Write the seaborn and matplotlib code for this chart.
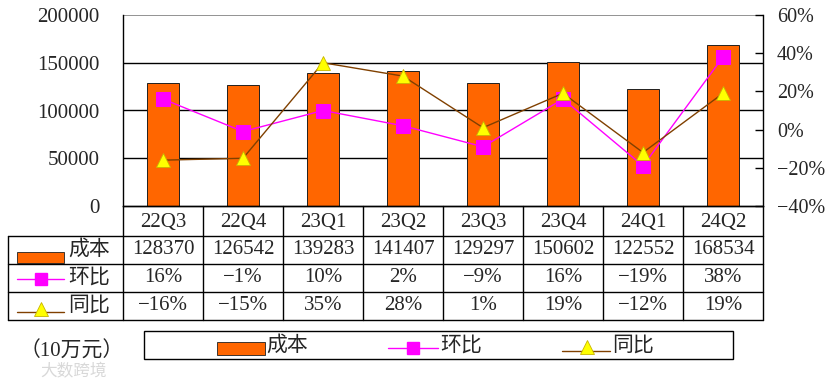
import numpy as np
import matplotlib
matplotlib.use("Agg")
import matplotlib.pyplot as plt
import matplotlib.transforms as mtrans
from matplotlib.patches import Rectangle
import seaborn as sns

# ==============================
# DATA
# ==============================
quarters = ["22Q3", "22Q4", "23Q1", "23Q2", "23Q3", "23Q4", "24Q1", "24Q2"]
cost = [128370, 126542, 139283, 141407, 129297, 150602, 122552, 168534]
qoq = [16, -1, 10, 2, -9, 16, -19, 38]      # 环比 %
yoy = [-16, -15, 35, 28, 1, 19, -12, 19]    # 同比 %

left_ticks = [0, 50000, 100000, 150000, 200000]
right_ticks = [-40, -20, 0, 20, 40, 60]

BAR = "#FF6600"
MAG = "#FF00FF"
BROWN = "#804000"
YEL = "#FFFF00"

# ==============================
# STYLE
# ==============================
sns.set_style("white")
plt.rcParams["font.family"] = ["Liberation Serif", "Noto Sans CJK SC"]
plt.rcParams["axes.unicode_minus"] = True
FS = 15


def pct(v):
    return f"{v}%".replace("-", "\u2212")


fig = plt.figure(figsize=(8.29, 3.84), dpi=100)
W, H = 829, 384
L, R, T, B = 123, 763, 15, 206
ax = fig.add_axes([L / W, 1 - B / H, (R - L) / W, (B - T) / H])

# ==============================
# BARS + LINES
# ==============================
sns.barplot(x=quarters, y=cost, color=BAR, width=0.39, edgecolor="#202020",
            linewidth=0.7, saturation=1, ax=ax, zorder=2)
ax.set_xlim(-0.5, 7.5)
ax.set_ylim(0, 200000)
ax.set_yticks(left_ticks)
ax.set_yticklabels([str(t) for t in left_ticks], fontsize=FS)
ax.tick_params(axis="y", length=0, pad=17)
ax.set_xticks([])
ax.set_xlabel("")
for t in left_ticks[1:-1]:
    ax.axhline(t, color="black", lw=1, zorder=1)
ax.axhline(200000, color="#808080", lw=1.2, zorder=1)
for s in ["left", "bottom"]:
    ax.spines[s].set_color("black")
    ax.spines[s].set_linewidth(1)
ax.spines["top"].set_visible(False)
ax.spines["right"].set_visible(False)

ax2 = ax.twinx()
xs = np.arange(len(quarters))
sns.lineplot(x=xs, y=qoq, color=MAG, lw=1, marker="s", markersize=9.5,
             markerfacecolor=MAG, markeredgecolor=MAG, ax=ax2, zorder=3)
sns.lineplot(x=xs, y=yoy, color=BROWN, lw=1, marker="^", markersize=10,
             markerfacecolor=YEL, markeredgecolor="#C8B400", markeredgewidth=0.6,
             ax=ax2, zorder=4)
ax2.set_ylim(-40, 60)
ax2.set_yticks(right_ticks)
ax2.set_yticklabels([pct(t) for t in right_ticks], fontsize=14.5)
ax2.tick_params(axis="y", direction="in", length=6, width=1, color="black", pad=10)
for s in ["left", "top", "bottom"]:
    ax2.spines[s].set_visible(False)
ax2.spines["right"].set_color("black")
ax2.spines["right"].set_linewidth(1)
ax2.set_xlim(-0.5, 7.5)

# ==============================
# DATA TABLE
# ==============================
ov = fig.add_axes([0, 0, 1, 1], zorder=5)
ov.set_xlim(0, W)
ov.set_ylim(H, 0)
ov.axis("off")
col = mtrans.blended_transform_factory(ax.transData, ov.transData)

lk = dict(color="black", lw=1)
rows = [206, 236, 264, 292, 320]
ov.plot([L, R], [rows[0], rows[0]], **lk)
for y in rows[1:]:
    ov.plot([8, R], [y, y], **lk)
for i in range(len(quarters) + 1):
    ov.plot([L + 80 * i, L + 80 * i], [206, 320], **lk)
ov.plot([8, 8], [236, 320], **lk)

for i, q in enumerate(quarters):
    ov.text(i, 222, q, transform=col, ha="center", va="center", fontsize=FS)
    ov.text(i, 250, str(cost[i]), transform=col, ha="center", va="center", fontsize=FS)
    ov.text(i, 278, pct(qoq[i]), transform=col, ha="center", va="center", fontsize=FS)
    ov.text(i, 306, pct(yoy[i]), transform=col, ha="center", va="center", fontsize=FS)

# row keys
ov.add_patch(Rectangle((17, 252), 47, 11, facecolor=BAR, edgecolor="#202020", lw=0.6))
ov.text(68, 250, "成本", ha="left", va="center", fontsize=FS)
ov.plot([17, 64], [279, 279], color=MAG, lw=1)
ov.plot([41], [279], marker="s", color=MAG, markersize=9)
ov.text(68, 278, "环比", ha="left", va="center", fontsize=FS)
ov.plot([17, 64], [312, 312], color=BROWN, lw=1)
ov.plot([41], [309], marker="^", markerfacecolor=YEL, markeredgecolor="#C8B400",
        markersize=10, mew=0.6)
ov.text(68, 306, "同比", ha="left", va="center", fontsize=FS)

# ==============================
# LEGEND BOX
# ==============================
ov.add_patch(Rectangle((144, 331), 589, 28, facecolor="none", edgecolor="black", lw=1))
ov.add_patch(Rectangle((217, 342), 48, 13, facecolor=BAR, edgecolor="#202020", lw=0.6))
ov.text(266, 346, "成本", ha="left", va="center", fontsize=FS)
ov.plot([388, 438], [348, 348], color=MAG, lw=1)
ov.plot([413], [348], marker="s", color=MAG, markersize=9)
ov.text(440, 346, "环比", ha="left", va="center", fontsize=FS)
ov.plot([562, 610], [351, 351], color=BROWN, lw=1)
ov.plot([587], [347], marker="^", markerfacecolor=YEL, markeredgecolor="#C8B400",
        markersize=10, mew=0.6)
ov.text(612, 346, "同比", ha="left", va="center", fontsize=FS)

ov.text(20, 352, "（10万元）", ha="left", va="center", fontsize=FS)
ov.text(40, 372, "大数跨境", ha="left", va="center", fontsize=12, color="#d8d8d8")

fig.savefig("out.png", dpi=100)
